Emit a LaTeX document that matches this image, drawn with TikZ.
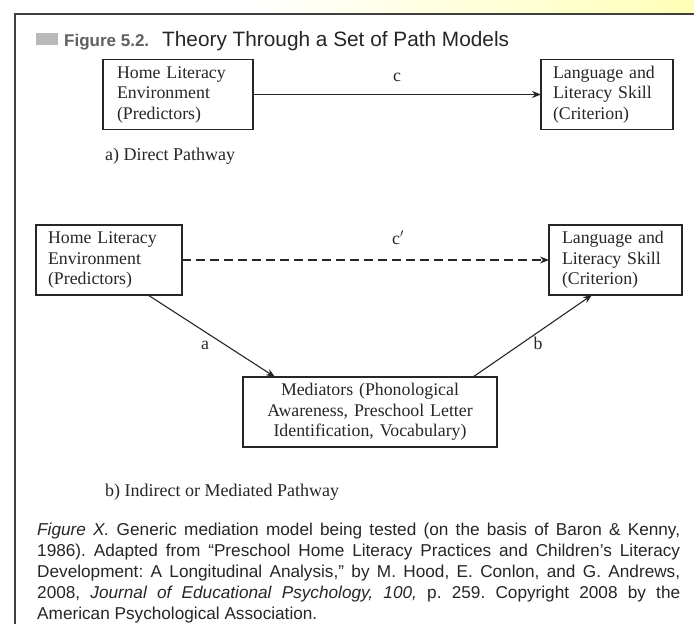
\documentclass[tikz,border=0pt]{standalone}
\usepackage{fontspec}
\setmainfont{Liberation Serif}
\newfontfamily\capfont{Liberation Sans}
\usetikzlibrary{arrows.meta}
\frenchspacing
\newcommand*{\boxfont}{\fontsize{17.8}{20.5}\selectfont}
\newcommand*{\capsize}{\fontsize{17.2}{21.2}\selectfont}
\newcommand*{\lw}{1.3pt}
\definecolor{ink}{gray}{0.15}
\tikzset{
	box/.style n args={2}{
		draw=ink,
		line width=\lw,
		text width=#1,
		inner xsep=#2,
		inner ysep=0pt,
		minimum height=70pt,
		outer sep=0pt,
		align=left,
		font=\boxfont,
		text=ink
	},
	link/.style={
		draw=ink,
		line width=1.1pt,
		-{Stealth[length=9pt,width=7pt]}
	},
	lbl/.style={
		font=\boxfont,
		text=ink,
		inner sep=0pt
	}
}
\begin{document}
\begin{tikzpicture}[x=1pt,y=-1pt]
	\useasboundingbox (0,0) rectangle (694,624);
	\fill [white] (0,0) rectangle (694,624);
	\shade [left color=white, right color=yellow!28] (250,0) rectangle (694,12);
	\draw [line width=1.8pt, draw=black!75] (15,624) -- (15,14) -- (694,14);
	\node (sq) [fill=gray!55, minimum width=22pt, minimum height=12pt, inner sep=0pt] at (47,39) {};
	\node (fig) [anchor=base west, inner sep=0pt, text=gray!75!black, font=\capfont\bfseries\fontsize{17}{20}\selectfont] at (64,46) {Figure 5.2.};
	\node (ttl) [anchor=base west, inner sep=0pt, text=ink, font=\capfont\fontsize{20.8}{24}\selectfont] at (162,46) {Theory Through a Set of Path Models};
	\node (hle1) [box={122pt}{14pt}] at (178,94.5) {Home Literacy\\Environment\\(Predictors)};
	\node (lls1) [box={108pt}{12pt}] at (607,94.5) {Language and\\Literacy Skill\\(Criterion)};
	\draw [link] (hle1) -- (lls1);
	\node (lc) [lbl, anchor=base] at (397,81) {c};
	\node (lpa) [lbl, anchor=base west, font=\fontsize{18}{21}\selectfont] at (105,160) {a) Direct Pathway};
	\node (hle2) [box={122pt}{12pt}] at (109,260) {Home Literacy\\Environment\\(Predictors)};
	\node (lls2) [box={107pt}{13pt}] at (615.5,260) {Language and\\Literacy Skill\\(Criterion)};
	\node (med) [box={230pt}{12pt}, align=center] at (370,412) {Mediators (Phonological\\Awareness, Preschool Letter\\Identification, Vocabulary)};
	\draw [link, dash pattern=on 9pt off 5pt] (hle2) -- (lls2);
	\draw [link] ([xshift=39pt]hle2.south) -- ([xshift=-95pt]med.north);
	\draw [link] ([xshift=103pt]med.north) -- ([xshift=-23.5pt]lls2.south);
	\node (lcp) [lbl, anchor=base] at (398,244) {c$'$};
	\node (la) [lbl, anchor=base] at (205,349) {a};
	\node (lb) [lbl, anchor=base] at (538,349) {b};
	\node (lpb) [lbl, anchor=base west, font=\fontsize{18}{21}\selectfont] at (105,496) {b) Indirect or Mediated Pathway};
	\node (cap) [anchor=base west, inner sep=0pt, text width=643pt, align=justify, text=ink, font=\capfont\capsize] at (37,535) {\textit{Figure X.} Generic mediation model being tested (on the basis of Baron \& Kenny,\linebreak 1986). Adapted from “Preschool Home Literacy Practices and Children’s Literacy\linebreak Development: A Longitudinal Analysis,” by M. Hood, E. Conlon, and G. Andrews,\linebreak 2008, \textit{Journal of Educational Psychology, 100,} p. 259. Copyright 2008 by the\linebreak American Psychological Association.};
\end{tikzpicture}
\end{document}
